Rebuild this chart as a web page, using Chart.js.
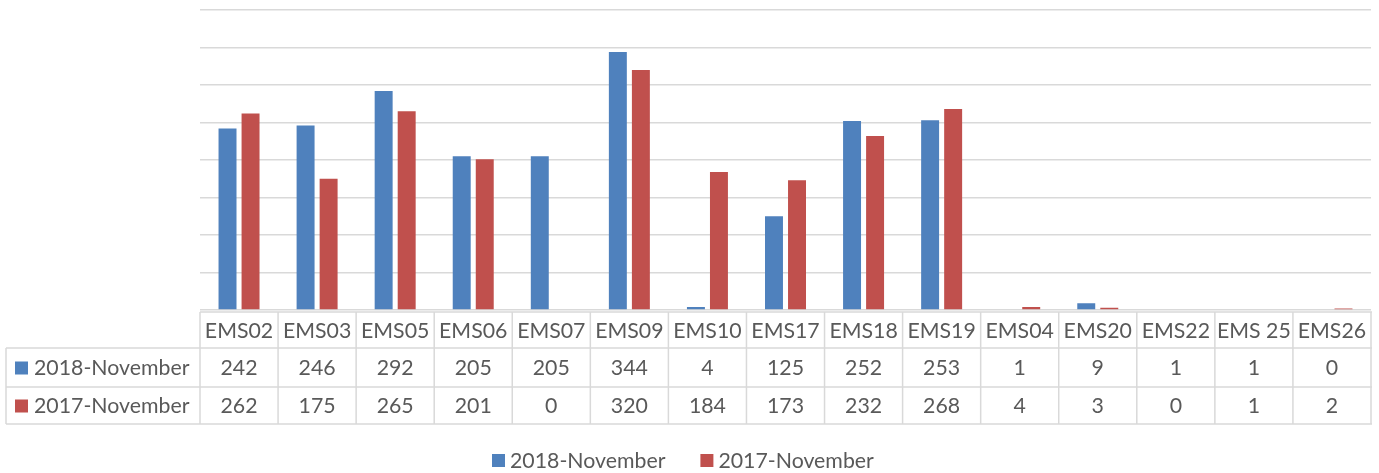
<!DOCTYPE html>
<html>
<head>
<meta charset="utf-8">
<script src="https://cdn.jsdelivr.net/npm/chart.js@4"></script>
<style>
  html, body { margin: 0; padding: 0; background: #fff; }
  #wrap { width: 1379px; height: 473px; }
</style>
</head>
<body>
<div id="wrap"><canvas id="emsChart" width="1379" height="473"></canvas></div>
<script>
// Data
const categories = ['EMS02', 'EMS03', 'EMS05', 'EMS06', 'EMS07', 'EMS09', 'EMS10', 'EMS17', 'EMS18', 'EMS19', 'EMS04', 'EMS20', 'EMS22', 'EMS 25', 'EMS26'];
const nov2018 = [242, 246, 292, 205, 205, 344, 4, 125, 252, 253, 1, 9, 1, 1, 0];
const nov2017 = [262, 175, 265, 201, 0, 320, 184, 173, 232, 268, 4, 3, 0, 1, 2];
const seriesNames = ['2018-November', '2017-November'];
const seriesColors = ['#4f81bd', '#c0504d'];

const FONT = '21.3px Lato, "Open Sans", sans-serif';
const TEXT = '#595959';
const LINE = '#d9d9d9';

// Data table + legend under the plot
const tablePlugin = {
  id: 'dataTable',
  afterDraw(chart) {
    const c = chart.ctx;
    const x = chart.scales.x;
    const area = chart.chartArea;
    const left = 6;
    const right = area.right + 1;
    const rows = [area.bottom + 2, 348, 387, 424];
    const n = categories.length;
    const colW = (area.right - area.left) / n;

    c.save();
    c.strokeStyle = LINE;
    c.lineWidth = 1.5;
    c.beginPath();
    // horizontal lines
    c.moveTo(area.left, rows[0]); c.lineTo(right, rows[0]);
    for (let i = 1; i < rows.length; i++) {
      c.moveTo(left, rows[i]); c.lineTo(right, rows[i]);
    }
    // vertical lines
    c.moveTo(left, rows[1]); c.lineTo(left, rows[3]);
    for (let i = 0; i <= n; i++) {
      const vx = area.left + i * colW;
      c.moveTo(vx, rows[0]); c.lineTo(vx, rows[3]);
    }
    c.stroke();

    c.font = FONT;
    c.fillStyle = TEXT;
    c.textAlign = 'center';
    c.textBaseline = 'middle';
    categories.forEach((cat, i) => {
      const cx = x.getPixelForValue(i);
      c.fillText(cat, cx, (rows[0] + rows[1]) / 2 + 1);
      c.fillText(String(nov2018[i]), cx, (rows[1] + rows[2]) / 2 + 1);
      c.fillText(String(nov2017[i]), cx, (rows[2] + rows[3]) / 2 + 1);
    });

    // row labels
    c.textAlign = 'left';
    [nov2018, nov2017].forEach((_, k) => {
      const cy = (rows[k + 1] + rows[k + 2]) / 2;
      c.fillStyle = seriesColors[k];
      c.fillRect(15, cy - 6, 13, 13);
      c.fillStyle = TEXT;
      c.fillText(seriesNames[k], 34, cy + 1);
    });

    // legend
    const ly = 460;
    let lx = 492;
    seriesNames.forEach((name, k) => {
      c.fillStyle = seriesColors[k];
      c.fillRect(lx, ly - 6, 13, 13);
      c.fillStyle = TEXT;
      c.fillText(name, lx + 18, ly + 1);
      lx += 18 + c.measureText(name).width + 35;
    });
    c.restore();
  }
};

new Chart(document.getElementById('emsChart'), {
  type: 'bar',
  data: {
    labels: categories,
    datasets: [
      { label: seriesNames[0], data: nov2018, backgroundColor: seriesColors[0] },
      { label: seriesNames[1], data: nov2017, backgroundColor: seriesColors[1] }
    ]
  },
  options: {
    responsive: false,
    animation: false,
    layout: { padding: { left: 200, right: 8, top: 10, bottom: 163 } },
    datasets: { bar: { categoryPercentage: 0.59, barPercentage: 0.78 } },
    plugins: {
      legend: { display: false },
      tooltip: { enabled: false }
    },
    scales: {
      x: { display: false },
      y: {
        min: 0,
        max: 400,
        ticks: { stepSize: 50, display: false },
        border: { display: false },
        grid: { color: LINE, lineWidth: 1.5, drawTicks: false },
        afterFit(s) { s.width = 0; }
      }
    }
  },
  plugins: [tablePlugin]
});
</script>
</body>
</html>
